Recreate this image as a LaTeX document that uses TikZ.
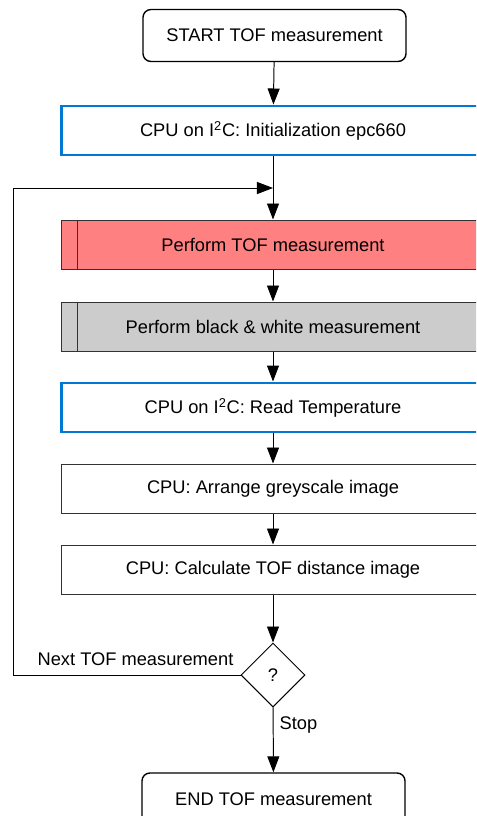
\documentclass[tikz,border=0pt]{standalone}
\usepackage{fontspec}
\setmainfont{Liberation Sans}
\usepackage{tikz}
\usetikzlibrary{shapes.geometric, arrows.meta, calc}
\definecolor{cpublue}{RGB}{0,120,212}
\definecolor{tofred}{RGB}{255,128,128}
\definecolor{bwgrey}{RGB}{204,204,204}
\definecolor{edgegrey}{RGB}{50,50,50}
\tikzset{
  termbox/.style={rectangle, draw=black, fill=white,
    minimum width=6.575cm, minimum height=1.3cm, inner sep=0pt,
    rounded corners=0.2cm, line width=1pt, font=\fontsize{13}{15}\selectfont},
  cpubox/.style={rectangle, draw=cpublue, fill=white,
    minimum width=10.55cm, minimum height=1.225cm, inner sep=0pt,
    line width=2.1pt, font=\fontsize{13}{15}\selectfont},
  procbox/.style={rectangle, draw=edgegrey, fill=white,
    minimum width=10.55cm, minimum height=1.225cm, inner sep=0pt,
    line width=0.7pt, font=\fontsize{13}{15}\selectfont},
  measbox/.style={procbox},
  decision/.style={diamond, draw=black, fill=white, aspect=1,
    minimum width=1.6cm, minimum height=1.6cm, inner sep=0pt,
    line width=0.7pt, font=\fontsize{13}{15}\selectfont},
  arrow/.style={-{Triangle[length=0.4cm, width=0.3cm]}, line width=0.7pt, color=black},
  line/.style={line width=0.7pt, color=black},
  lbl/.style={font=\fontsize{13}{15}\selectfont}
}
\begin{document}
\begin{tikzpicture}[x=0.025cm, y=-0.025cm]
  \useasboundingbox (0,0) rectangle (476,816);
  \clip (0,0) rectangle (476,816);
  % process chain
  \node[termbox] (start) at (274.5,35.5) {START TOF measurement};
  \node[cpubox] (init) at (273,130.5) {CPU on I\textsuperscript{2}C: Initialization epc660};
  \node[measbox, fill=tofred] (tof) at (273,244.5) {Perform TOF measurement};
  \node[measbox, fill=bwgrey] (bw) at (273,326.5) {Perform black \& white measurement};
  \node[cpubox] (temp) at (273,407.5) {CPU on I\textsuperscript{2}C: Read Temperature};
  \node[procbox] (grey) at (273,488.5) {CPU: Arrange greyscale image};
  \node[procbox] (dist) at (273,569.5) {CPU: Calculate TOF distance image};
  \node[decision] (dec) at (273,675) {?};
  \node[termbox] (stop) at (273.5,799) {END TOF measurement};
  % inner bars of the measurement blocks
  \draw[edgegrey, line width=0.7pt] ($(tof.north west)+(16,0)$) -- ($(tof.south west)+(16,0)$);
  \draw[edgegrey, line width=0.7pt] ($(bw.north west)+(16,0)$) -- ($(bw.south west)+(16,0)$);
  % connectors
  \coordinate (junc) at (273,188);
  \coordinate (loopc) at (13,188);
  \draw[arrow] (start) -- (init);
  \draw[line] (init) -- (junc);
  \draw[arrow] (junc) -- (tof);
  \draw[arrow] (tof) -- (bw);
  \draw[arrow] (bw) -- (temp);
  \draw[arrow] (temp) -- (grey);
  \draw[arrow] (grey) -- (dist);
  \draw[arrow] (dist) -- (dec);
  \draw[arrow] (dec) -- (stop);
  \draw[arrow] (dec.west) -| (loopc) -- (junc);
  \node[lbl] (nextlbl) at (135.5,659) {Next TOF measurement};
  \node[lbl] (stoplbl) at (298.5,725) {Stop};
\end{tikzpicture}
\end{document}
